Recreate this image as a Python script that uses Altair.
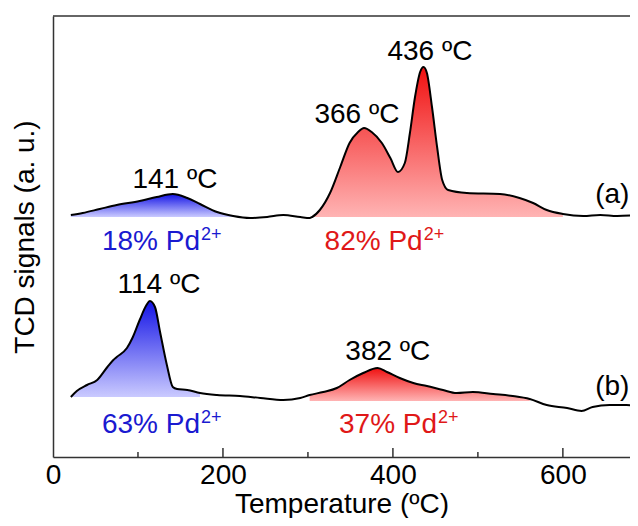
import altair as alt
import pandas as pd

# ---- data (Temperature in ºC, signal in arbitrary units) ----
T_a = [21, 35, 55, 75, 102, 122, 141, 158, 173, 193, 212, 232, 252, 271, 291, 302, 305,
       314, 326, 338, 349, 359, 366, 375, 387, 397, 406, 414, 420, 426, 432, 436, 440,
       446, 452, 458, 465, 487, 526, 549, 565, 581, 600, 624, 644, 664, 688]
v_a = [242, 244, 248, 252, 256, 260, 263, 259, 253, 245, 241, 239, 240, 242, 240, 239, 240,
       247, 264, 290, 314, 325, 329, 325, 314, 299, 285, 294, 324, 360, 385, 390, 384,
       350, 310, 277, 267, 264, 263, 259, 254, 247, 243, 241, 242, 241, 242]

T_b = [21, 28, 40, 52, 64, 71, 75, 87, 94, 102, 110, 114, 120, 126, 134, 141, 146, 158,
       173, 193, 220, 244, 271, 291, 302, 318, 334, 349, 365, 382, 393, 408, 424, 440,
       459, 475, 494, 518, 541, 561, 581, 605, 622, 635, 655, 675, 688]
v_b = [60, 66, 72, 77, 90, 97, 100, 109, 120, 137, 152, 156, 150, 125, 92, 70, 68, 67,
       64, 62, 61, 59, 57, 59, 62, 65, 69, 77, 84, 89, 85, 79, 74, 71,
       67, 64, 65, 63, 61, 58, 52, 49, 46, 50, 52, 52, 51]

# fill ranges (curve, T from, T to, baseline, top colour, bottom colour)
fills = [
    ("a", 21, 212, 240, "#1414e6", "#cacaff"),
    ("a", 305, 600, 240, "#f01010", "#ffb4b4"),
    ("b", 21, 173, 60, "#1414e6", "#cacaff"),
    ("b", 302, 561, 56, "#f01010", "#ffb4b4"),
]

peak_text = ["141 ºC", "366 ºC", "436 ºC", "114 ºC", "382 ºC"]
peak_T = [143.5, 357.6, 443.5, 124.7, 394]
peak_v = [269, 334, 397, 164, 97]

pct_text = ["18% Pd", "82% Pd", "63% Pd", "37% Pd"]
pct_T = [173, 435, 173, 452]
pct_v = [207, 207, 24, 24]
pct_color = ["#1a1ad0", "#e01818", "#1a1ad0", "#e01818"]

tag_text = ["(a)", "(b)"]
tag_T = [638, 638]
tag_v = [254, 62]

major_ticks = [200, 400, 600]
minor_ticks = [100, 300, 500]

W, H = 577, 441
X_MAX = 679
FONT = "Liberation Sans"

xs = alt.Scale(domain=[0, X_MAX], nice=False, zero=False)
ys = alt.Scale(domain=[0, 441], nice=False, zero=False)

da = pd.DataFrame({"T": T_a, "v": v_a})
db = pd.DataFrame({"T": T_b, "v": v_b})
curves = {"a": da, "b": db}

layers = []
for cur, t0, t1, base, dark, light in fills:
    d = curves[cur]
    sub = d[(d["T"] >= t0) & (d["T"] <= t1)].copy()
    sub["base"] = base
    grad = alt.Gradient(gradient="linear", x1=0, x2=0, y1=0, y2=1,
                        stops=[alt.GradientStop(color=dark, offset=0),
                               alt.GradientStop(color=light, offset=1)])
    layers.append(
        alt.Chart(sub).mark_area(color=grad, interpolate="monotone", clip=True).encode(
            x=alt.X("T:Q", scale=xs),
            y=alt.Y("v:Q", scale=ys),
            y2="base:Q",
        )
    )

for d in (da, db):
    layers.append(
        alt.Chart(d).mark_line(color="black", strokeWidth=2, interpolate="monotone",
                               clip=True).encode(
            x=alt.X("T:Q", scale=xs,
                    axis=alt.Axis(values=[0, 200, 400, 600], title="Temperature (ºC)",
                                  ticks=False, tickSize=0, labelPadding=26,
                                  labelBaseline="alphabetic", labelFlush=False,
                                  grid=False, domainColor="#333", domainWidth=1.5,
                                  titleY=55, titleBaseline="alphabetic")),
            y=alt.Y("v:Q", scale=ys,
                    axis=alt.Axis(title="TCD signals (a. u.)", labels=False, ticks=False,
                                  tickSize=0, grid=False, domainColor="#333",
                                  domainWidth=1.5, titlePadding=14)),
        )
    )

# inward ticks
layers.append(
    alt.Chart(pd.DataFrame({"T": major_ticks})).mark_rule(color="#333", strokeWidth=1.5).encode(
        x=alt.X("T:Q", scale=xs), y=alt.value(H), y2=alt.value(H - 9))
)
layers.append(
    alt.Chart(pd.DataFrame({"T": minor_ticks})).mark_rule(color="#333", strokeWidth=1.5).encode(
        x=alt.X("T:Q", scale=xs), y=alt.value(H), y2=alt.value(H - 5))
)
# top frame line
layers.append(
    alt.Chart(pd.DataFrame({"k": [0]})).mark_rule(color="#333", strokeWidth=1.5).encode(
        x=alt.value(0), x2=alt.value(W), y=alt.value(0))
)

layers.append(
    alt.Chart(pd.DataFrame({"T": peak_T, "v": peak_v, "t": peak_text})).mark_text(
        font=FONT, fontSize=28, color="black", align="center", baseline="alphabetic").encode(
        x=alt.X("T:Q", scale=xs), y=alt.Y("v:Q", scale=ys), text="t:N")
)
pdf = pd.DataFrame({"T": pct_T, "v": pct_v, "t": pct_text, "c": pct_color, "s": ["2+"] * 4})
layers.append(
    alt.Chart(pdf).mark_text(font=FONT, fontSize=28, align="right", baseline="alphabetic").encode(
        x=alt.X("T:Q", scale=xs), y=alt.Y("v:Q", scale=ys), text="t:N",
        color=alt.Color("c:N", scale=None))
)
layers.append(
    alt.Chart(pdf).mark_text(font=FONT, fontSize=18, align="left", baseline="alphabetic",
                             dx=1, dy=-10).encode(
        x=alt.X("T:Q", scale=xs), y=alt.Y("v:Q", scale=ys), text="s:N",
        color=alt.Color("c:N", scale=None))
)
layers.append(
    alt.Chart(pd.DataFrame({"T": tag_T, "v": tag_v, "t": tag_text})).mark_text(
        font=FONT, fontSize=28, color="black", align="left", baseline="alphabetic").encode(
        x=alt.X("T:Q", scale=xs), y=alt.Y("v:Q", scale=ys), text="t:N")
)

chart = alt.layer(*layers).properties(
    width=W, height=H,
    autosize=alt.AutoSizeParams(type="none"),
    padding={"left": 45, "top": 8, "right": 0, "bottom": 61},
).configure_view(stroke=None).configure_axis(
    labelFont=FONT, titleFont=FONT, labelFontSize=28, titleFontSize=28,
    titleFontWeight="normal", labelColor="black", titleColor="black",
)

chart.save("out.html", embed_options={"renderer": "svg", "actions": False})
